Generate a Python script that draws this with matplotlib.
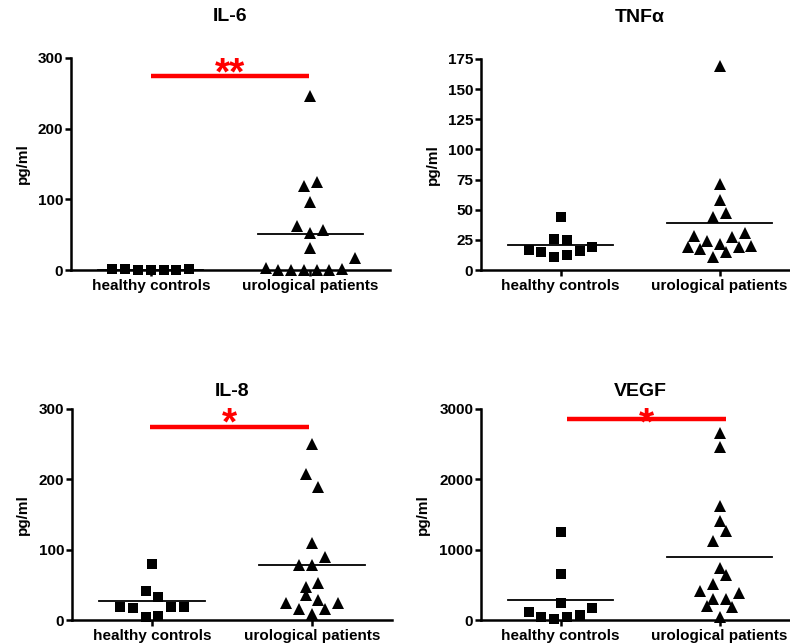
import numpy as np
import matplotlib
matplotlib.use('Agg')
import matplotlib.pyplot as plt

plt.rcParams['font.family'] = ['Liberation Sans', 'DejaVu Sans']
plt.rcParams['font.weight'] = 'bold'

# ---------------- data ----------------
groups = ['healthy controls', 'urological patients']

il6_healthy = [1.4, 1.4, 0.0, 0.0, 0.0, 0.0, 1.4]
il6_healthy_slots = [-6, -4, -2, 0, 2, 4, 6]
il6_uro = [245.7, 119.5, 125.0, 96.0, 62.8, 52.0, 56.7, 31.7, 16.5,
           2.4, 0.3, 0.3, 0.3, 0.5, 0.5, 2.0]
il6_uro_slots = [0, -1, 1, 0, -2, 0, 2, 0, 7, -7, -5, -3, -1, 1, 3, 5]

tnf_healthy = [43.7, 25.7, 24.6, 16.6, 14.9, 10.8, 12.4, 16.0, 18.8]
tnf_healthy_slots = [0, -1, 1, -5, -3, -1, 1, 3, 5]
tnf_uro = [169.2, 71.3, 58.1, 44.2, 47.0, 28.2, 24.3, 27.6, 31.0,
           19.4, 17.1, 21.6, 15.2, 18.8, 19.9, 10.5]
tnf_uro_slots = [0, 0, 0, -1, 1, -4, -2, 2, 4, -5, -3, 0, 1, 3, 5, -1]

il8_healthy = [79.6, 41.2, 33.2, 19.0, 16.6, 18.5, 19.0, 4.7, 5.7]
il8_healthy_slots = [0, -1, 1, -5, -3, 3, 5, -1, 1]
il8_uro = [249.8, 207.6, 188.6, 110.0, 90.0, 78.7, 77.7, 47.4, 52.1,
           35.5, 24.6, 15.6, 28.4, 15.2, 24.6, 8.5]
il8_uro_slots = [0, -1, 1, 0, 2, -2, 0, -1, 1, -1, -4, -2, 1, 2, 4, 0]

vegf_healthy = [1246, 659, 246, 114, 47, 9.5, 38, 66, 166]
vegf_healthy_slots = [0, 0, 0, -5, -3, -1, 1, 3, 5]
vegf_uro = [2654, 2464, 1621, 1408, 1265, 1123, 739, 640, 507,
            412, 389, 303, 294, 199, 180, 38]
vegf_uro_slots = [0, 0, 0, 0, 1, -1, 0, 1, -1, -3, 3, -1, 1, -2, 2, 0]

titles = ['IL-6', 'TNF\u03b1', 'IL-8', 'VEGF']
yticks_list = [[0, 100, 200, 300],
               [0, 25, 50, 75, 100, 125, 150, 175],
               [0, 100, 200, 300],
               [0, 1000, 2000, 3000]]
# significance bars: (from, to, height, label)
sig_list = [(1.0, 1.99, 275, '**'),
            None,
            (0.99, 1.98, 275, '*'),
            (1.04, 2.04, 2860, '*')]

# ---------------- layout / style ----------------
W, H = 790, 644
# axes boxes in pixels: left, right, top, bottom
boxes = [(71, 390, 58, 270), (481, 799, 59, 270),
         (72, 392, 409, 620), (481, 799, 409, 620)]
title_gap = [41, 41, 17, 17]
star_off = [-6, None, -6, -11]
ylabel_x = [23, 433, 23, 423]
step = 0.04
half = 0.33

fig = plt.figure(figsize=(W / 100, H / 100), dpi=100)

panels = [(il6_healthy, il6_healthy_slots, il6_uro, il6_uro_slots),
          (tnf_healthy, tnf_healthy_slots, tnf_uro, tnf_uro_slots),
          (il8_healthy, il8_healthy_slots, il8_uro, il8_uro_slots),
          (vegf_healthy, vegf_healthy_slots, vegf_uro, vegf_uro_slots)]

for i, (hv, hs, uv, us) in enumerate(panels):
    l, r, t, b = boxes[i]
    ax = fig.add_axes([l / W, 1 - b / H, (r - l) / W, (b - t) / H])
    ax.set_xlim(0.5, 2.5)
    yt = yticks_list[i]
    ax.set_ylim(0, yt[-1])
    for s in ['top', 'right']:
        ax.spines[s].set_visible(False)
    for s in ['left', 'bottom']:
        ax.spines[s].set_linewidth(1.8)
        ax.spines[s].set_zorder(2)
    ax.set_yticks(yt)
    ax.set_xticks([1, 2])
    ax.set_xticklabels(groups)
    ax.tick_params(axis='both', width=1.8, length=4, labelsize=11, color='black')
    ax.tick_params(axis='y', pad=1.5)
    ax.tick_params(axis='x', pad=2.5)

    # points
    ax.plot(1 + step * np.array(hs), hv, 's', color='black', ms=7.6,
            clip_on=False, zorder=3, mew=0)
    ax.plot(2 + step * np.array(us), uv, '^', color='black', ms=8.8,
            clip_on=False, zorder=3, mew=0)
    # mean lines
    for xc, vals in [(1, hv), (2, uv)]:
        m = np.mean(vals)
        ax.plot([xc - half, xc + half], [m, m], color='black', lw=1.3, zorder=2)

    ax.set_title(titles[i], fontsize=14, fontweight='bold',
                 y=1 + title_gap[i] / (b - t), va='center', pad=0)
    ax.set_ylabel('pg/ml', fontsize=11, fontweight='bold')
    ax.yaxis.label.set_verticalalignment('center')
    ax.yaxis.set_label_coords((ylabel_x[i] - l) / (r - l), 0.5)

    sig = sig_list[i]
    if sig is not None:
        x0, x1, yv, lab = sig
        ax.plot([x0, x1], [yv, yv], color='#ff0000', lw=3.2,
                solid_capstyle='butt', clip_on=False, zorder=4)
        ax.annotate(lab, xy=((x0 + x1) / 2, yv), xytext=(0, star_off[i]),
                    textcoords='offset points', ha='center', va='baseline',
                    color='#ff0000', fontsize=28, fontweight='bold',
                    annotation_clip=False)

fig.savefig('out.png', dpi=100)
